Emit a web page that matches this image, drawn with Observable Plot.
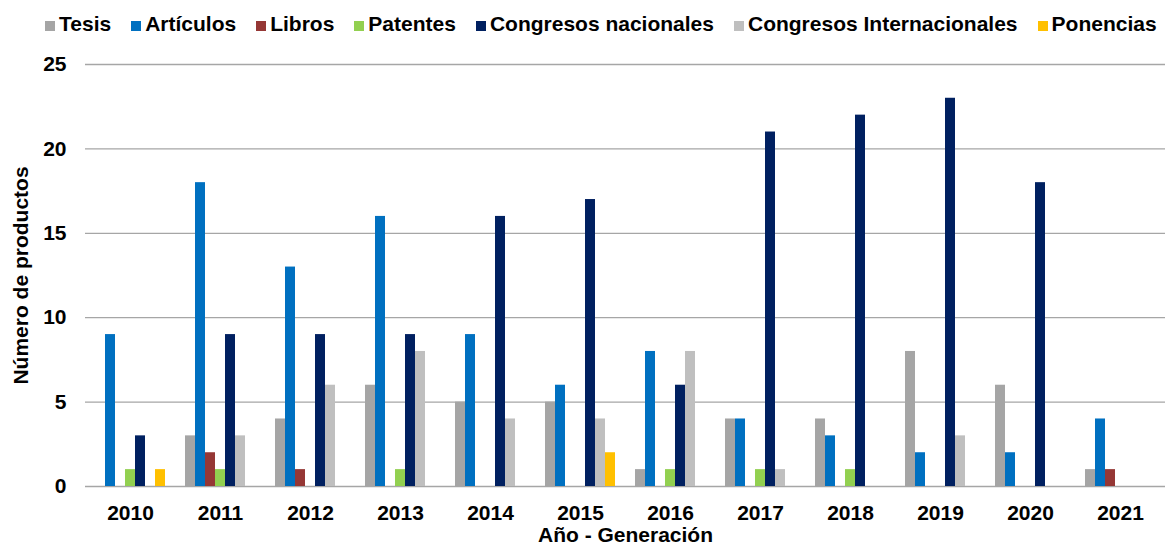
<!DOCTYPE html>
<html><head><meta charset="utf-8">
<script src="https://cdn.jsdelivr.net/npm/d3@7"></script>
<script src="https://cdn.jsdelivr.net/npm/@observablehq/plot@0.6"></script>
<style>
body{margin:0;background:#fff;font-family:"Liberation Sans",Arial,sans-serif;}
#legend{height:44px;box-sizing:border-box;padding-top:12px;padding-left:45px;font-weight:bold;font-size:21px;line-height:24px;white-space:nowrap;color:#000;}
.item{display:inline-block;margin-right:20px;}
.sw{display:inline-block;width:10px;height:10px;margin-right:4px;vertical-align:baseline;}
</style></head>
<body>
<div id="legend"></div>
<div id="chart"></div>
<script>
const years = ["2010","2011","2012","2013","2014","2015","2016","2017","2018","2019","2020","2021"];
const series = ["Tesis","Artículos","Libros","Patentes","Congresos nacionales","Congresos Internacionales","Ponencias"];
const colors = ["#a5a5a5","#0070c0","#953735","#92d050","#002060","#bfbfbf","#ffc000"];
const tesis      = [0, 3, 4, 6, 5, 5, 1, 4, 4, 8, 6, 1];
const articulos  = [9,18,13,16, 9, 6, 8, 4, 3, 2, 2, 4];
const libros     = [0, 2, 1, 0, 0, 0, 0, 0, 0, 0, 0, 1];
const patentes   = [1, 1, 0, 1, 0, 0, 1, 1, 1, 0, 0, 0];
const congNac    = [3, 9, 9, 9,16,17, 6,21,22,23,18, 0];
const congInt    = [0, 3, 6, 8, 4, 4, 8, 1, 0, 3, 0, 0];
const ponencias  = [1, 0, 0, 0, 0, 2, 0, 0, 0, 0, 0, 0];
const yTicks = [0, 5, 10, 15, 20, 25];

const values = [tesis, articulos, libros, patentes, congNac, congInt, ponencias];
const data = [];
years.forEach((yr, i) => series.forEach((s, j) => data.push({year: yr, serie: s, value: values[j][i]})));

const legend = document.getElementById("legend");
series.forEach((s, j) => {
  const it = document.createElement("span");
  it.className = "item";
  const sw = document.createElement("span");
  sw.className = "sw";
  sw.style.background = colors[j];
  it.appendChild(sw);
  it.appendChild(document.createTextNode(s));
  legend.appendChild(it);
});

const chart = Plot.plot({
  width: 1166, height: 500,
  marginLeft: 85, marginRight: 1, marginTop: 20, marginBottom: 58,
  style: {fontFamily: "Liberation Sans, Arial, sans-serif", fontSize: "21px", fontWeight: "bold", color: "#000", background: "#fff", overflow: "visible"},
  fx: {domain: years, padding: 0, label: "Año - Generación", labelAnchor: "center", labelOffset: 55, tickSize: 0, tickPadding: 19, axis: "bottom"},
  x: {domain: series, paddingInner: 0, paddingOuter: 1, axis: null},
  y: {domain: [0, 25]},
  color: {domain: series, range: colors},
  marks: [
    Plot.ruleY(yTicks, {stroke: "#a6a6a6", strokeWidth: 1.3}),
    Plot.axisY({ticks: yTicks, tickSize: 0, tickPadding: 19, label: "Número de productos", labelAnchor: "center", labelOffset: 72, labelArrow: false, line: true, stroke: "#a6a6a6", strokeWidth: 1.3, fill: "#000"}),
    Plot.barY(data, {fx: "year", x: "serie", y: "value", fill: "serie"})
  ]
});
document.getElementById("chart").appendChild(chart);
</script>
</body></html>
